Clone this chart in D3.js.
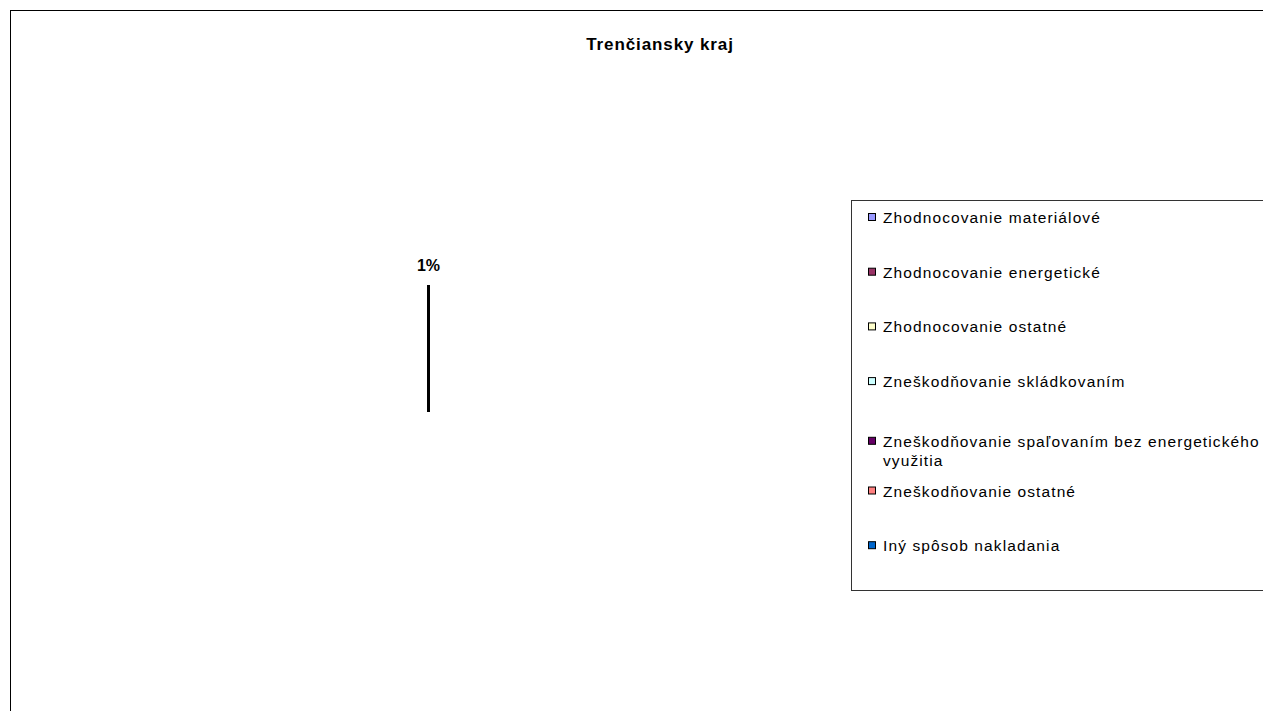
<!DOCTYPE html>
<html>
<head>
<meta charset="utf-8">
<script src="https://cdn.jsdelivr.net/npm/d3@7"></script>
<style>
  body { margin: 0; background: #fff; }
  text { font-family: "Liberation Sans", Arial, sans-serif; }
</style>
</head>
<body>
<div id="chart"></div>
<script>
// Data
var title = "Trenčiansky kraj";
var categories = [
  "Zhodnocovanie materiálové",
  "Zhodnocovanie energetické",
  "Zhodnocovanie ostatné",
  "Zneškodňovanie skládkovaním",
  "Zneškodňovanie spaľovaním bez energetického využitia",
  "Zneškodňovanie ostatné",
  "Iný spôsob nakladania"
];
var values = [0, 0, 0, 0, 0, 0, 0];
var percentLabels = ["1%", "", "", "", "", "", ""];
var colors = ["#9999FF", "#993366", "#FFFFCC", "#CCFFFF", "#660066", "#FF8080", "#0066CC"];

var width = 1263,
    height = 711;

var svg = d3.select("#chart")
            .append("svg")
              .attr("width", width)
              .attr("height", height);

// Chart area border (runs off the right and bottom edge)
svg.append("rect")
  .attr("x", 10.5)
  .attr("y", 10.5)
  .attr("width", width + 20)
  .attr("height", height + 20)
  .attr("fill", "#fff")
  .attr("stroke", "#000")
  .attr("stroke-width", 1);

// Title
svg.append("text")
  .attr("x", 660)
  .attr("y", 50)
  .attr("text-anchor", "middle")
  .style("font-size", "17px")
  .style("font-weight", "bold")
  .style("letter-spacing", "0.9px")
  .text(title);

// Pie
var cx = 428.5,
    cy = 412,
    radius = 127;

var pie = d3.pie()
            .sort(null)
            .value(function(d) { return d; });

var arc = d3.arc()
            .innerRadius(0)
            .outerRadius(radius);

var g = svg.append("g")
           .attr("transform", "translate(" + cx + "," + cy + ")");

var arcs = pie(values);

g.selectAll("path")
  .data(arcs)
  .enter()
  .append("path")
    .attr("d", arc)
    .attr("fill", function(d, i) { return colors[i]; })
    .attr("stroke", "#000")
    .attr("stroke-width", 2);

// Percentage labels, placed outside the pie
g.selectAll(".lbl")
  .data(arcs)
  .enter()
  .append("text")
    .attr("class", "lbl")
    .attr("x", function(d) { var a = (d.startAngle + d.endAngle) / 2; return Math.sin(a) * (radius + 20); })
    .attr("y", function(d) { var a = (d.startAngle + d.endAngle) / 2; return -Math.cos(a) * (radius + 20) + 6; })
    .attr("text-anchor", "middle")
    .style("font-size", "16px")
    .style("font-weight", "bold")
    .text(function(d, i) { return percentLabels[i]; });

// Legend
var legendX = 851.5,
    legendY = 200.5,
    legendBottom = 590.5,
    firstY = 218,
    step = 54.7,
    textX = 883,
    maxTextWidth = 392;

svg.append("rect")
  .attr("x", legendX)
  .attr("y", legendY)
  .attr("width", width)
  .attr("height", legendBottom - legendY)
  .attr("fill", "#fff")
  .attr("stroke", "#333")
  .attr("stroke-width", 1);

categories.forEach(function(name, i) {
  var y = firstY + i * step;
  var item = svg.append("g").attr("class", "legend");

  var box = item.append("rect")
    .attr("x", 868.5)
    .attr("y", y - 4.5)
    .attr("width", 7)
    .attr("height", 7)
    .attr("fill", colors[i])
    .attr("stroke", "#000")
    .attr("stroke-width", 1);

  var text = item.append("text")
    .attr("x", textX)
    .attr("y", y + 5)
    .style("font-size", "15.5px")
    .style("letter-spacing", "1.1px");

  // Wrap long names
  var words = name.split(" "),
      line = [],
      lineNo = 0,
      tspan = text.append("tspan").attr("x", textX).attr("dy", 0);
  words.forEach(function(w) {
    line.push(w);
    tspan.text(line.join(" "));
    if (tspan.node().getComputedTextLength() > maxTextWidth && line.length > 1) {
      line.pop();
      tspan.text(line.join(" "));
      line = [w];
      lineNo++;
      tspan = text.append("tspan").attr("x", textX).attr("dy", 19).text(w);
    }
  });
  if (lineNo > 0) {
    text.attr("y", y + 5 + 5);
    box.attr("y", y - 4.5 + 5);
  }
});
</script>
</body>
</html>
